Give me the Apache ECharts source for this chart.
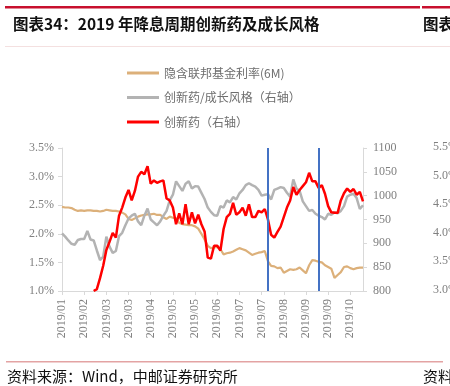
<!DOCTYPE html>
<html><head><meta charset="utf-8">
<script src="https://cdn.jsdelivr.net/npm/echarts@6/dist/echarts.min.js"></script>
<style>html,body{margin:0;padding:0;background:#fff}#c{width:450px;height:386px}</style>
</head><body><div id="c"></div>
<script>
// x-axis tick labels (one every 7 observations)
const tickLabels = ['2019/01','2019/02','2019/03','2019/03','2019/04','2019/05','2019/05','2019/06','2019/07','2019/07','2019/08','2019/09','2019/09','2019/10'];
// 隐含联邦基金利率(6M), %
const fedRate = [2.47,2.46,2.46,2.45,2.42,2.40,2.41,2.40,2.41,2.41,2.40,2.40,2.39,2.40,2.42,2.41,2.40,2.40,2.39,2.37,
 2.34,2.26,2.24,2.27,2.30,2.32,2.33,2.34,2.34,2.35,2.33,2.33,2.29,2.26,2.30,2.28,2.27,2.19,2.17,2.16,
 2.15,2.15,2.13,2.09,2.00,1.90,1.79,1.75,1.76,1.77,1.73,1.64,1.66,1.67,1.69,1.72,1.75,1.73,1.71,1.67,
 1.63,1.65,1.67,1.68,1.70,1.52,1.44,1.43,1.40,1.41,1.32,1.35,1.38,1.37,1.38,1.41,1.36,1.31,1.45,1.54,
 1.53,1.51,1.50,1.45,1.42,1.39,1.23,1.28,1.33,1.42,1.43,1.40,1.38,1.40,1.41,1.41];
// 创新药/成长风格 (right axis)
const ratioSeries = [921,914,906,899,897,907,909,909,926,908,906,885,865,872,914,893,880,884,915,922,
 938,952,958,962,946,938,958,973,950,944,938,946,958,968,990,1002,1030,1020,1010,1025,
 1030,1015,1020,1019,1006,993,975,966,959,958,978,975,990,986,997,992,1005,1012,1022,1026,
 1022,1019,1012,1000,1002,1003,992,1012,1015,1018,1016,1006,998,1034,1015,1010,988,978,968,970,
 962,958,955,950,962,960,965,963,968,978,998,1002,1004,995,972,980];
// 创新药 (right axis)
const drugSeries = [null,null,null,null,null,null,null,null,null,null,800,804,827,853,886,903,922,912,958,975,
 996,1012,990,1010,1040,1050,1045,1062,1025,1032,1027,1030,1032,994,990,975,940,963,940,982,
 940,965,942,960,940,925,870,868,895,895,885,930,955,962,985,960,965,975,958,982,
 955,955,968,965,972,950,918,912,924,935,955,975,990,1018,1002,1012,1020,1028,1048,1030,
 1030,1016,1022,1004,978,965,964,964,990,1005,1015,1008,1014,1002,1008,988];
// observation indices of the two marked events (blue lines)
const eventIdx = [65, 81];
const seriesNames = ['隐含联邦基金利率(6M)','创新药/成长风格（右轴）','创新药（右轴）'];
const seriesColors = ['#dcb07a', '#b3b3b3', '#ff0000'];

const categories = fedRate.map((_, i) => 'd' + i);
const chart = echarts.init(document.getElementById('c'), null, {renderer: 'canvas'});
const axisTxt = {fontFamily: 'Liberation Serif', fontSize: 12, color: '#808080'};
const axisLn = {show: true, lineStyle: {color: '#d9d9d9', width: 1}};
const lineIcon = 'path://M0,0H32V3H0Z';
chart.setOption({
  animation: false,
  backgroundColor: '#fff',
  grid: {left: 62, right: 87, top: 148, bottom: 95, containLabel: false},
  legend: {
    orient: 'vertical', left: 122, top: 61, itemWidth: 32, itemHeight: 14, itemGap: 10.5,
    symbolKeepAspect: true,
    textStyle: {fontFamily: 'Noto Sans CJK SC', fontSize: 12, lineHeight: 14, color: '#6e6e6e'},
    data: seriesNames.map((n, k) => ({name: n, icon: lineIcon, itemStyle: {color: seriesColors[k]}}))
  },
  xAxis: {
    type: 'category', boundaryGap: false, data: categories,
    axisLine: axisLn,
    axisTick: {show: true, interval: 6, length: 4, lineStyle: {color: '#d9d9d9'}},
    axisLabel: Object.assign({interval: 6, rotate: 90, margin: 8,
      formatter: (v, i) => (i % 7 === 0 ? tickLabels[i / 7] : '')}, axisTxt),
    splitLine: {show: false}
  },
  yAxis: [
    {type: 'value', min: 1, max: 3.5, interval: 0.5, position: 'left',
     axisLine: axisLn, axisTick: {show: true, length: 4, lineStyle: {color: '#d9d9d9'}},
     axisLabel: Object.assign({margin: 8, formatter: v => v.toFixed(1) + '%'}, axisTxt),
     splitLine: {show: false}},
    {type: 'value', min: 800, max: 1100, interval: 50, position: 'right',
     axisLine: axisLn, axisTick: {show: true, length: 4, lineStyle: {color: '#d9d9d9'}},
     axisLabel: Object.assign({margin: 10, formatter: v => String(v)}, axisTxt),
     splitLine: {show: false}}
  ],
  series: [
    {name: seriesNames[0], type: 'line', yAxisIndex: 0, data: fedRate, symbol: 'none',
     lineStyle: {color: seriesColors[0], width: 2.2}, itemStyle: {color: seriesColors[0]}},
    {name: seriesNames[1], type: 'line', yAxisIndex: 1, data: ratioSeries, symbol: 'none',
     lineStyle: {color: seriesColors[1], width: 2.5}, itemStyle: {color: seriesColors[1]}},
    {name: seriesNames[2], type: 'line', yAxisIndex: 1, data: drugSeries, symbol: 'none',
     lineStyle: {color: seriesColors[2], width: 2.5}, itemStyle: {color: seriesColors[2]},
     markLine: {silent: true, symbol: 'none', label: {show: false}, animation: false,
       lineStyle: {color: '#4472c4', width: 2, type: 'solid'},
       data: eventIdx.map(i => ({xAxis: i}))}}
  ],
  graphic: [
    {type: 'rect', shape: {x: 5, y: 6, width: 415, height: 2.5}, style: {fill: '#c8102e'}},
    {type: 'rect', shape: {x: 422, y: 6, width: 28, height: 2.5}, style: {fill: '#c8102e'}},
    {type: 'text', left: 13, top: 16, style: {text: '图表34：2019 年降息周期创新药及成长风格', fontFamily: 'Noto Sans CJK SC', fontWeight: 'bold', fontSize: 15.5, fill: '#111'}},
    {type: 'text', left: 423, top: 16, style: {text: '图表35', fontFamily: 'Noto Sans CJK SC', fontWeight: 'bold', fontSize: 15.5, fill: '#111'}},
    {type: 'rect', shape: {x: 5, y: 46, width: 445, height: 1}, style: {fill: '#f4e0e0'}},
    {type: 'rect', shape: {x: 6, y: 361, width: 437, height: 1.5}, style: {fill: '#e3a3a3'}},
    {type: 'text', left: 7, top: 369, style: {text: '资料来源：Wind，中邮证券研究所', fontFamily: 'Noto Sans CJK SC', fontSize: 15, fill: '#111'}},
    {type: 'text', left: 423, top: 369, style: {text: '资料来源', fontFamily: 'Noto Sans CJK SC', fontSize: 15, fill: '#111'}},
    {type: 'text', left: 433, top: 141, style: {text: '5.5%', fontFamily: 'Liberation Serif', fontSize: 12, fill: '#808080'}},
    {type: 'text', left: 433, top: 170, style: {text: '5.0%', fontFamily: 'Liberation Serif', fontSize: 12, fill: '#808080'}},
    {type: 'text', left: 433, top: 198, style: {text: '4.5%', fontFamily: 'Liberation Serif', fontSize: 12, fill: '#808080'}},
    {type: 'text', left: 433, top: 227, style: {text: '4.0%', fontFamily: 'Liberation Serif', fontSize: 12, fill: '#808080'}},
    {type: 'text', left: 433, top: 255, style: {text: '3.5%', fontFamily: 'Liberation Serif', fontSize: 12, fill: '#808080'}},
    {type: 'text', left: 433, top: 284, style: {text: '3.0%', fontFamily: 'Liberation Serif', fontSize: 12, fill: '#808080'}}
  ]
});
</script></body></html>
